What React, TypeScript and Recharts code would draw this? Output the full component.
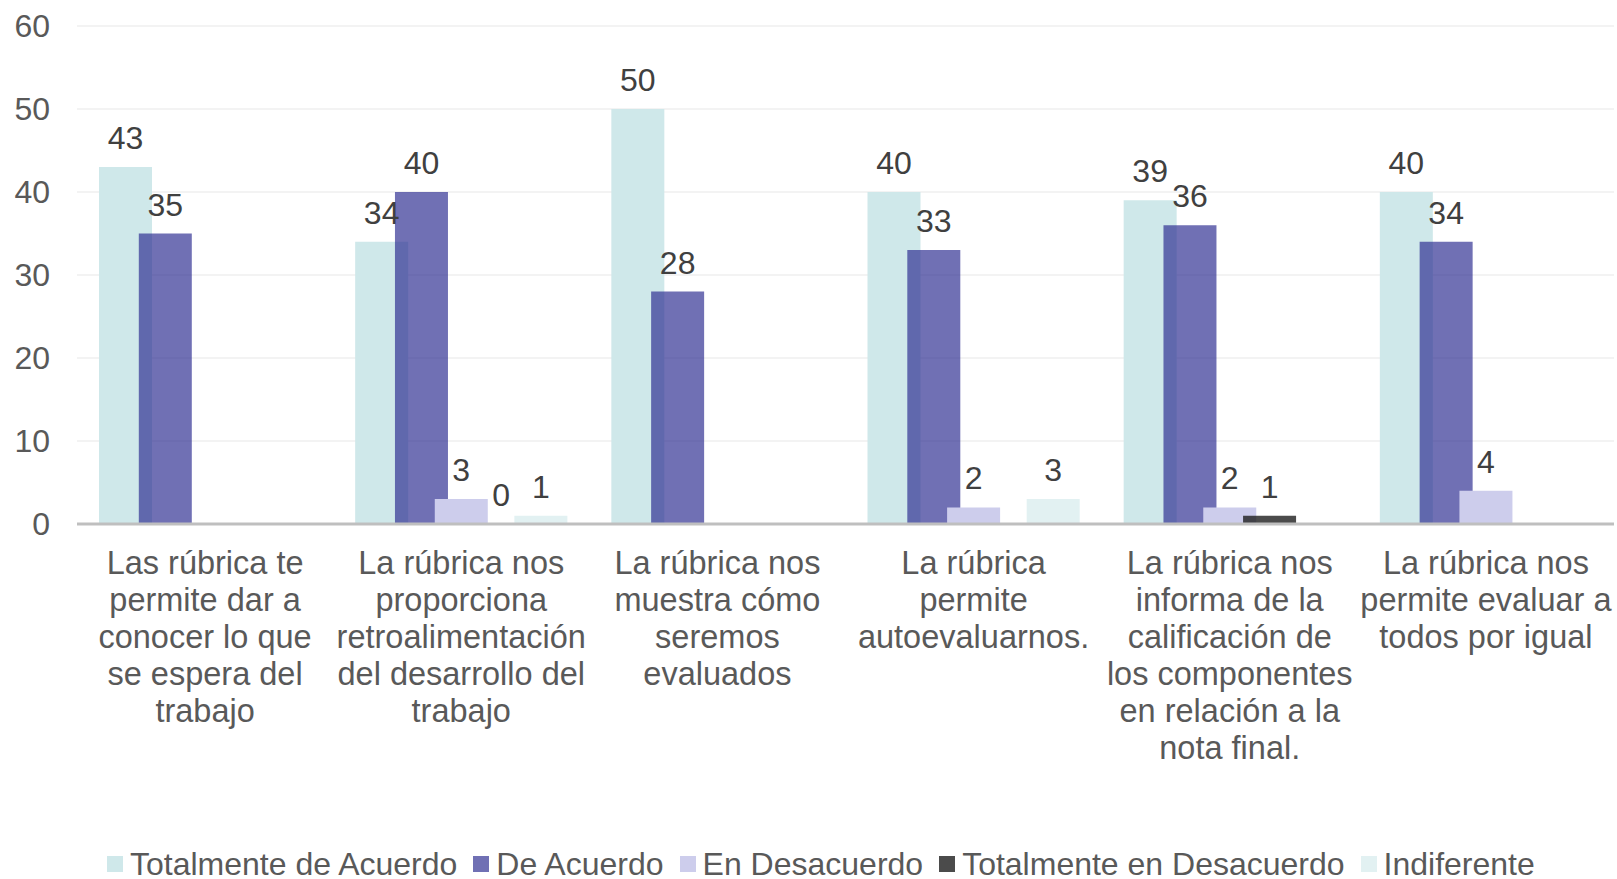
import React from "react";
import { BarChart, Bar, XAxis, YAxis, CartesianGrid, Legend, LabelList } from "recharts";

const categories = [
  "Las rúbrica te permite dar a conocer lo que se espera del trabajo",
  "La rúbrica nos proporciona retroalimentación del desarrollo del trabajo",
  "La rúbrica nos muestra cómo seremos evaluados",
  "La rúbrica permite autoevaluarnos.",
  "La rúbrica nos informa de la calificación de los componentes en relación a la nota final.",
  "La rúbrica nos permite evaluar a todos por igual",
];

// tick labels, already broken into lines as in the picture
const categoryLines = [
  ["Las rúbrica te", "permite dar a", "conocer lo que", "se espera del", "trabajo"],
  ["La rúbrica nos", "proporciona", "retroalimentación", "del desarrollo del", "trabajo"],
  ["La rúbrica nos", "muestra cómo", "seremos", "evaluados"],
  ["La rúbrica", "permite", "autoevaluarnos."],
  ["La rúbrica nos", "informa de la", "calificación de", "los componentes", "en relación a la", "nota final."],
  ["La rúbrica nos", "permite evaluar a", "todos por igual"],
];

const yTicks = [0, 10, 20, 30, 40, 50, 60];

const totalmenteDeAcuerdo = [43, 34, 50, 40, 39, 40];
const deAcuerdo = [35, 40, 28, 33, 36, 34];
const enDesacuerdo = [null, 3, null, 2, 2, 4];
const totalmenteEnDesacuerdo = [null, 0, null, null, 1, null];
const indiferente = [null, 1, null, 3, null, null];

const series = [
  { key: "tda", name: "Totalmente de Acuerdo", values: totalmenteDeAcuerdo, fill: "#CFE8EA", opacity: 1, swatch: "#CFE8EA" },
  { key: "da", name: "De Acuerdo", values: deAcuerdo, fill: "#26268D", opacity: 0.66, swatch: "#7070B4" },
  { key: "ed", name: "En Desacuerdo", values: enDesacuerdo, fill: "#CDCDEC", opacity: 1, swatch: "#CDCDEC" },
  { key: "ted", name: "Totalmente en Desacuerdo", values: totalmenteEnDesacuerdo, fill: "#1E1E1E", opacity: 0.8, swatch: "#4B4B4B" },
  { key: "ind", name: "Indiferente", values: indiferente, fill: "#E2F1F2", opacity: 1, swatch: "#E2F1F2" },
];

const data = categories.map((c, i) => {
  const row: any = { category: c };
  series.forEach((s) => (row[s.key] = s.values[i]));
  return row;
});

const FONT = '"Liberation Sans", Arial, sans-serif';

const CategoryTick = ({ x, y, payload }: any) => {
  const idx = categories.indexOf(payload.value);
  const lines = categoryLines[idx] || [payload.value];
  return (
    <text x={x} y={y} textAnchor="middle" fill="#595959" fontSize={32.5} fontFamily={FONT}>
      {lines.map((l, i) => (
        <tspan key={i} x={x} dy={i === 0 ? 50 : 37}>
          {l}
        </tspan>
      ))}
    </text>
  );
};

const ValueLabel = ({ x, y, width, value }: any) => {
  if (value === null || value === undefined) return null;
  return (
    <text x={x + width / 2} y={y - 18} textAnchor="middle" fill="#404040" fontSize={32} fontFamily={FONT}>
      {value}
    </text>
  );
};

// zero values still need a label, so give them a hair of height
const zeroPoint = (v: any) => (v === 0 ? 0.01 : 0);

const LegendContent = () => (
  <div
    style={{
      display: "flex",
      alignItems: "center",
      height: 30,
      lineHeight: "30px",
      paddingLeft: 107,
      fontFamily: FONT,
      fontSize: 32,
      color: "#595959",
      whiteSpace: "nowrap",
    }}
  >
    {series.map((s) => (
      <span key={s.key} style={{ display: "flex", alignItems: "center", marginRight: 16 }}>
        <span style={{ width: 16, height: 16, background: s.swatch, marginRight: 7, display: "inline-block" }} />
        {s.name}
      </span>
    ))}
  </div>
);

export default function App() {
  return (
    <div style={{ position: "absolute", top: 0, left: 0, width: 1617, height: 879, background: "#fff" }}>
      <BarChart
        width={1617}
        height={879}
        data={data}
        margin={{ top: 26, right: 3, left: 0, bottom: 0 }}
        barSize={53}
        barGap={-13.2}
      >
        <CartesianGrid horizontal vertical={false} stroke="#EFEFEF" strokeWidth={1.5} />
        <XAxis
          dataKey="category"
          height={325}
          tick={<CategoryTick />}
          tickLine={false}
          tickSize={0}
          tickMargin={0}
          interval={0}
          axisLine={{ stroke: "#BFBFBF", strokeWidth: 3 }}
        />
        <YAxis
          width={77}
          domain={[0, 60]}
          ticks={yTicks}
          axisLine={false}
          tickLine={false}
          tickSize={0}
          tickMargin={27}
          tick={{ fill: "#595959", fontSize: 32, fontFamily: FONT }}
        />
        <Legend verticalAlign="bottom" content={<LegendContent />} wrapperStyle={{ left: 0, width: 1617 }} />
        {series.map((s) => (
          <Bar
            key={s.key}
            dataKey={s.key}
            name={s.name}
            fill={s.fill}
            fillOpacity={s.opacity}
            minPointSize={zeroPoint}
            isAnimationActive={false}
          >
            <LabelList dataKey={s.key} content={<ValueLabel />} />
          </Bar>
        ))}
      </BarChart>
    </div>
  );
}
